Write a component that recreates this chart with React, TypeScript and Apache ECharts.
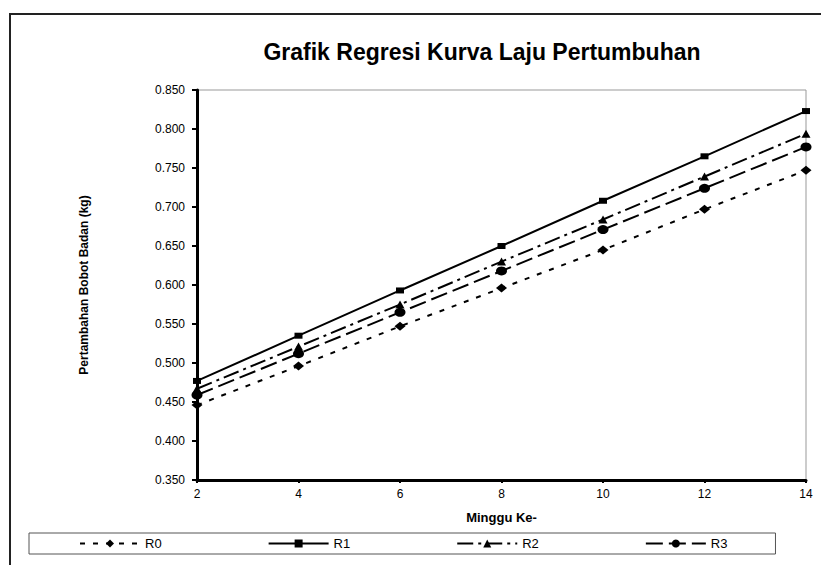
import React, { useEffect, useRef } from "react";
import * as echarts from "echarts";

const weeks = [2, 4, 6, 8, 10, 12, 14];
const r0 = [0.446, 0.496, 0.547, 0.596, 0.645, 0.697, 0.747];
const r1 = [0.477, 0.535, 0.593, 0.650, 0.708, 0.765, 0.823];
const r2 = [0.467, 0.521, 0.575, 0.630, 0.684, 0.739, 0.794];
const r3 = [0.459, 0.512, 0.565, 0.618, 0.671, 0.724, 0.777];
const seriesNames = ["R0", "R1", "R2", "R3"];

const FONT = "'Liberation Sans', Arial, sans-serif";

export default function App() {
  const ref = useRef<HTMLDivElement>(null);
  useEffect(() => {
    if (!ref.current) return;
    const chart = echarts.init(ref.current, undefined, { renderer: "svg" });
    const pts = (arr: number[]) => weeks.map((w, i) => [w, arr[i]]);
    const mk = (
      name: string,
      arr: number[],
      symbol: string,
      size: number[],
      type: any
    ) => ({
      name,
      type: "line",
      data: pts(arr),
      symbol,
      symbolSize: size,
      showSymbol: true,
      itemStyle: { color: "#000" },
      lineStyle: { color: "#000", width: 2, type },
      z: 3,
    });
    chart.setOption({
      animation: false,
      backgroundColor: "#fff",
      textStyle: { fontFamily: FONT },
      title: {
        text: "Grafik Regresi Kurva Laju Pertumbuhan",
        left: 477,
        top: 35,
        textAlign: "center",
        textStyle: { fontSize: 23, fontWeight: "bold", color: "#000", fontFamily: FONT },
      },
      graphic: [
        {
          type: "rect",
          shape: { x: 10, y: 14, width: 900, height: 700 },
          style: { fill: "none", stroke: "#222", lineWidth: 2 },
          z: -1,
        },
      ],
      grid: {
        left: 197,
        top: 90,
        right: 15,
        bottom: 85,
        show: true,
        borderColor: "#999",
        borderWidth: 1,
        backgroundColor: "transparent",
      },
      legend: {
        data: seriesNames,
        left: 29,
        top: 533,
        orient: "horizontal",
        itemWidth: 60,
        itemHeight: 10,
        itemGap: 106,
        padding: [4, 48, 4, 50],
        borderColor: "#555",
        borderWidth: 1,
        textStyle: { fontSize: 13, color: "#000", fontFamily: FONT },
      },
      xAxis: {
        type: "value",
        min: 2,
        max: 14,
        interval: 2,
        name: "Minggu Ke-",
        nameLocation: "middle",
        nameGap: 31,
        nameTextStyle: { fontSize: 13, fontWeight: "bold", color: "#000", fontFamily: FONT },
        axisLine: { show: true, lineStyle: { color: "#000", width: 3 } },
        axisTick: { show: true, length: 3, lineStyle: { color: "#000", width: 2 } },
        axisLabel: { fontSize: 12, color: "#000", margin: 8, fontFamily: FONT },
        splitLine: { show: false },
      },
      yAxis: {
        type: "value",
        min: 0.35,
        max: 0.85,
        interval: 0.05,
        name: "Pertambahan Bobot Badan (kg)",
        nameLocation: "middle",
        nameRotate: 90,
        nameGap: 107,
        nameTextStyle: { fontSize: 12, fontWeight: "bold", color: "#000", fontFamily: FONT },
        axisLine: { show: true, lineStyle: { color: "#000", width: 3 } },
        axisTick: { show: true, length: 5, lineStyle: { color: "#000", width: 2 } },
        axisLabel: {
          fontSize: 12,
          color: "#000",
          margin: 12,
          fontFamily: FONT,
          formatter: (v: number) => v.toFixed(3),
        },
        splitLine: { show: false },
      },
      series: [
        mk("R0", r0, "diamond", [11, 9], [5, 8]),
        mk("R1", r1, "rect", [8, 6], "solid"),
        mk("R2", r2, "triangle", [9, 8], [16, 5, 3, 5]),
        mk("R3", r3, "circle", [11, 9], [17, 6]),
      ],
    });
    return () => chart.dispose();
  }, []);
  return (
    <div
      ref={ref}
      style={{ position: "fixed", left: 0, top: 0, width: 821, height: 565 }}
    />
  );
}
